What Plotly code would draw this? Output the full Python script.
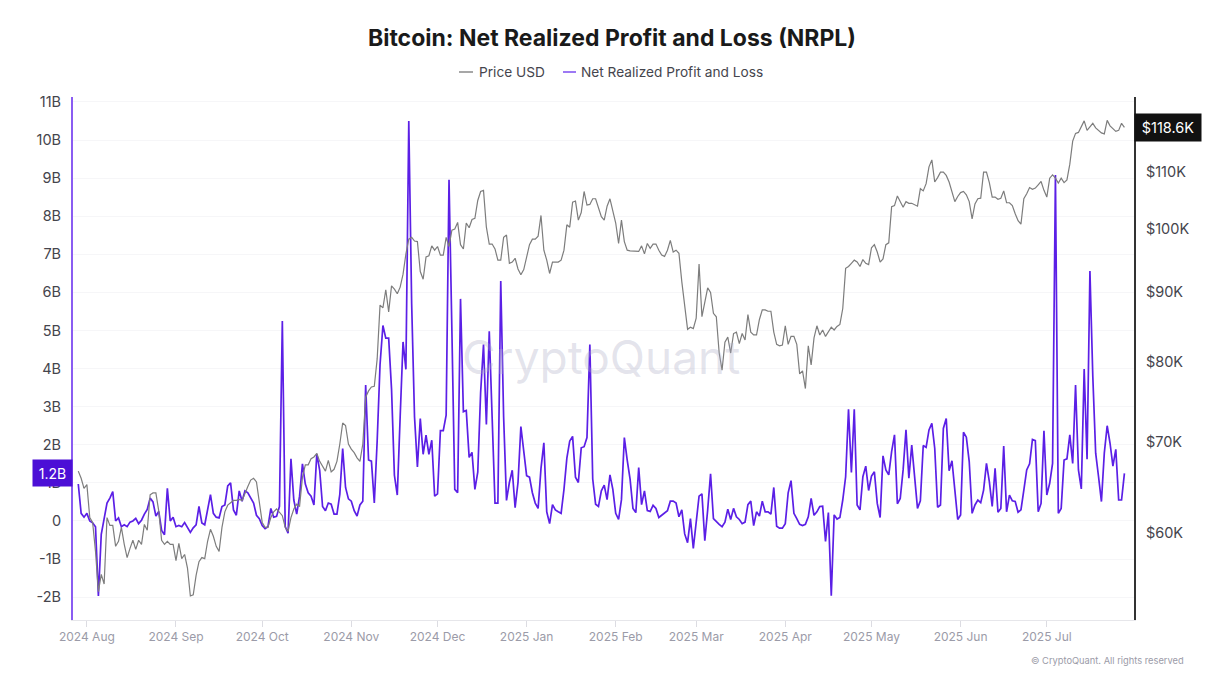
import numpy as np
import pandas as pd
import plotly.graph_objects as go

start_date = "2024-07-29"

# net realized profit and loss, billions USD, one value per day
nrpl_b = [
    0.97, 0.2, 0.1, 0.2, 0.0, -0.05, -0.15, -1.97, -0.35, 0.1,
    0.47, 0.6, 0.77, 0.0, 0.08, -0.15, -0.1, -0.15, -0.03, 0.0,
    0.07, -0.07, 0.02, 0.18, 0.3, 0.6, 0.5, 0.13, 0.25, -0.25,
    -0.36, 0.86, 0.0, 0.1, -0.15, -0.12, -0.15, -0.04, -0.18, -0.3,
    -0.18, -0.1, 0.38, -0.05, -0.1, 0.25, 0.69, 0.2, 0.1, 0.08,
    0.38, 0.42, 0.92, 1.0, 0.29, 0.15, 0.79, 0.52, 0.79, 0.74,
    0.6, 0.47, 0.15, 0.06, -0.12, -0.2, -0.15, 0.33, 0.1, 0.12,
    0.38, 5.25, -0.15, -0.32, 1.63, 0.55, 0.18, 0.65, 1.5, 0.97,
    0.74, 0.65, 0.42, 1.76, 1.33, 0.38, 0.27, 0.47, 0.44, 0.18,
    0.18, 0.7, 1.9, 0.88, 0.58, 0.52, 0.27, 0.13, 0.42, 0.52,
    3.57, 1.6, 1.57, 0.47, 2.1, 4.1, 5.13, 4.8, 4.8, 3.46,
    1.2, 0.68, 2.73, 4.7, 3.98, 10.5, 5.7, 2.73, 1.42, 2.69,
    1.75, 2.25, 1.75, 2.12, 0.65, 0.71, 2.37, 2.37, 2.78, 8.96,
    5.0, 0.83, 0.74, 5.83, 2.87, 2.9, 1.67, 1.8, 0.83, 1.28,
    3.37, 4.63, 2.53, 4.98, 2.73, 0.47, 0.47, 6.3, 2.73, 0.54,
    1.01, 1.33, 0.35, 1.01, 2.48, 1.83, 1.19, 1.15, 0.74, 0.47,
    0.33, 1.38, 2.05, 0.24, -0.07, 0.43, 0.29, 0.24, 0.2, 0.83,
    1.65, 2.1, 2.22, 1.15, 1.01, 1.92, 1.95, 2.19, 4.63, 1.1,
    0.44, 0.38, 0.79, 0.94, 0.56, 1.21, 0.83, 0.2, 0.04, 0.56,
    2.19, 1.6, 1.1, 0.33, 0.22, 1.4, 0.43, 0.79, 0.27, 0.25,
    0.41, 0.33, 0.09, 0.15, 0.2, 0.27, 0.52, 0.52, 0.47, 0.11,
    0.29, -0.34, -0.57, 0.06, -0.72, -0.07, 0.65, 0.71, -0.52, 0.29,
    1.24, 0.06, -0.03, -0.09, -0.15, -0.03, 0.31, 0.04, 0.33, 0.11,
    0.04, -0.07, -0.03, 0.43, 0.52, -0.12, 0.24, 0.13, 0.52, 0.24,
    0.24, 0.18, 0.88, -0.14, -0.19, -0.19, -0.07, 0.74, 1.06, 0.2,
    0.06, -0.09, -0.12, -0.09, 0.11, 0.59, 0.15, 0.24, 0.38, 0.39,
    -0.54, 0.22, -1.96, 0.16, 0.05, 0.09, 0.55, 1.16, 2.93, 1.27,
    2.93, 0.42, 0.29, 1.16, 1.44, 0.8, 1.18, 1.29, 0.46, 0.09,
    1.71, 1.34, 1.21, 1.82, 2.26, 0.45, 0.59, 1.34, 2.39, 1.12,
    1.99, 1.08, 0.33, 0.53, 1.98, 1.93, 2.39, 2.56, 1.91, 0.36,
    0.42, 2.43, 2.69, 1.32, 1.58, 0.81, 0.04, 0.16, 2.33, 2.2,
    1.56, 0.2, 0.42, 0.55, 0.48, 0.81, 1.51, 1.03, 0.38, 1.38,
    0.23, 0.33, 1.97, 0.24, 0.68, 0.53, 0.51, 0.23, 0.29, 0.81,
    1.34, 1.5, 2.14, 2.11, 0.24, 0.46, 2.37, 0.68, 0.99, 1.51,
    9.08, 0.2, 0.33, 1.6, 1.63, 2.26, 1.51, 3.57, 1.34, 0.84,
    3.99, 1.62, 6.56, 3.79, 1.78, 1.16, 0.51, 1.78, 2.5, 2.04,
    1.44, 1.88, 0.55, 0.55, 1.25,
]

# BTC price, thousands USD, one value per day
price_k = [
    66.6, 65.8, 64.7, 65.1, 61.6, 61.1, 58.2, 54.4, 56.0, 55.1,
    61.6, 60.8, 60.8, 58.7, 59.2, 60.6, 58.9, 57.6, 58.5, 59.3,
    58.4, 59.3, 58.9, 60.9, 60.3, 64.0, 64.2, 64.2, 62.3, 59.3,
    58.9, 59.2, 58.9, 58.9, 57.3, 59.0, 57.5, 57.9, 56.6, 54.0,
    54.1, 55.9, 57.2, 57.6, 57.5, 59.2, 60.4, 59.7, 58.7, 58.2,
    60.6, 62.2, 62.9, 63.2, 63.4, 63.4, 63.5, 63.4, 64.2, 64.9,
    65.6, 65.8, 65.4, 63.2, 61.1, 60.6, 60.6, 61.6, 62.2, 62.5,
    62.2, 61.8, 60.6, 60.2, 61.6, 62.5, 63.0, 62.8, 65.9, 67.3,
    67.3, 68.0, 68.2, 68.6, 67.7, 67.1, 66.6, 67.8, 66.5, 66.8,
    67.7, 69.7, 72.2, 71.9, 69.7, 69.1, 68.7, 68.1, 67.7, 69.7,
    75.4, 76.2, 76.7, 76.8, 80.4, 88.0, 87.6, 90.3, 87.0, 90.9,
    90.4, 89.7, 90.7, 92.7, 95.9, 98.3, 98.6, 98.0, 97.9, 93.1,
    91.9, 95.4, 95.6, 97.2, 96.5, 97.1, 95.7, 95.7, 98.6, 97.1,
    99.8, 100.0, 101.1, 97.4, 96.7, 101.0, 100.2, 101.6, 101.8, 104.9,
    106.5, 106.7, 100.3, 97.5, 97.5, 96.7, 94.9, 94.9, 98.6, 99.0,
    94.4, 94.6, 95.2, 93.5, 92.6, 93.4, 95.2, 97.4, 98.3, 98.3,
    98.8, 102.3, 96.5, 94.9, 92.8, 94.6, 94.6, 94.6, 94.9, 96.5,
    100.7, 100.3, 104.6, 104.8, 101.5, 102.8, 106.5, 104.1, 104.2, 105.2,
    105.2, 103.5, 102.1, 101.5, 103.9, 105.2, 103.0, 101.0, 97.6, 101.5,
    97.9, 96.5, 96.4, 96.4, 96.4, 96.3, 97.2, 95.9, 97.6, 96.8,
    97.5, 97.5, 96.5, 95.7, 95.5, 96.5, 98.1, 96.2, 96.5, 96.0,
    91.5, 88.3, 84.5, 84.8, 84.6, 86.1, 94.3, 86.3, 88.3, 90.6,
    89.9, 86.8, 86.3, 81.2, 78.9, 82.7, 83.4, 81.2, 83.9, 84.1,
    82.5, 83.9, 83.0, 86.6, 84.1, 83.7, 83.7, 85.9, 87.3, 87.3,
    87.1, 87.1, 84.1, 82.4, 82.2, 82.3, 85.0, 82.4, 83.5, 83.5,
    82.4, 78.4, 78.8, 76.5, 82.2, 79.6, 83.3, 85.0, 83.7, 84.4,
    83.5, 84.1, 84.8, 84.4, 84.9, 85.2, 87.5, 93.6, 93.9, 94.4,
    94.9, 94.6, 93.9, 95.0, 94.4, 94.2, 96.9, 97.4, 96.2, 94.6,
    95.1, 97.4, 97.7, 103.8, 104.0, 105.7, 104.7, 103.7, 104.7, 104.4,
    104.4, 104.1, 103.9, 107.0, 106.6, 107.9, 111.0, 112.3, 108.2, 109.0,
    110.0, 110.0, 109.4, 108.2, 106.3, 104.7, 105.6, 106.3, 106.5, 105.9,
    104.7, 101.7, 104.3, 105.2, 105.3, 110.0, 110.0, 108.1, 105.5, 105.5,
    105.1, 105.3, 106.6, 104.5, 104.5, 104.0, 102.6, 101.4, 100.8, 105.2,
    106.1, 107.2, 106.9, 107.1, 107.7, 108.3, 106.7, 105.5, 108.9, 109.5,
    108.9, 108.0, 108.9, 108.1, 108.6, 111.5, 115.9, 117.4, 117.6, 118.7,
    119.9, 118.0, 118.7, 119.4, 118.5, 118.0, 117.5, 117.3, 120.0, 118.9,
    118.3, 117.8, 118.0, 119.4, 118.6,
]

month_ticks = ["2024-08-01", "2024-09-01", "2024-10-01", "2024-11-01", "2024-12-01", "2025-01-01",
               "2025-02-01", "2025-03-01", "2025-04-01", "2025-05-01", "2025-06-01", "2025-07-01"]
left_ticks = [-2, -1, 0, 1, 2, 3, 4, 5, 6, 7, 8, 9, 10, 11]
left_labels = ["-2B", "-1B", "0", "1B", "2B", "3B", "4B", "5B", "6B", "7B", "8B", "9B", "10B", "11B"]
right_ticks = [60, 70, 80, 90, 100, 110]
right_labels = ["$60K", "$70K", "$80K", "$90K", "$100K", "$110K"]

FONT = "Inter"
PURPLE = "#5b1fe6"
GREY_TEXT = "#45454d"
LEFT, RIGHT, TOP, BOTTOM = 73, 1134, 97, 620


# paper coords are relative to the plot area, these take page pixels
def px(x):
    return (x - LEFT) / (RIGHT - LEFT)


def py(y):
    return (BOTTOM - y) / (BOTTOM - TOP)


dates = pd.date_range(start_date, periods=len(nrpl_b))

fig = go.Figure()
fig.add_trace(go.Scatter(x=dates, y=price_k, mode="lines", name="Price USD", yaxis="y2",
                         line=dict(color="#7d7d7d", width=1.2)))
fig.add_trace(go.Scatter(x=dates, y=nrpl_b, mode="lines", name="Net Realized Profit and Loss",
                         line=dict(color=PURPLE, width=1.7)))

fig.update_layout(
    width=1230, height=674,
    margin=dict(l=LEFT, r=1230 - RIGHT, t=TOP, b=674 - BOTTOM),
    paper_bgcolor="white", plot_bgcolor="white",
    showlegend=False,
    font=dict(family=FONT),
    title=dict(text="<b>Bitcoin: Net Realized Profit and Loss (NRPL)</b>",
               x=612 / 1230, xanchor="center", y=1 - 38 / 674, yanchor="middle",
               font=dict(size=23, color="#1a1a1a", family=FONT)),
    xaxis=dict(type="date", range=["2024-07-27 04:00", "2025-07-31 08:00"],
               tickvals=month_ticks, tickformat="%Y %b",
               ticks="outside", ticklen=6, tickcolor="#dcdce2",
               tickfont=dict(size=12, color="#9b9ba8"),
               showline=True, linecolor="#e6e6ea", linewidth=1,
               showgrid=False, zeroline=False),
    yaxis=dict(range=[-2.6, 11.13], tickvals=left_ticks, ticktext=left_labels,
               tickfont=dict(size=14.5, color=GREY_TEXT), ticks="", ticklabelstandoff=7,
               showline=True, linecolor="#8a5cf2", linewidth=2,
               gridcolor="#f6f6f8", gridwidth=1, zeroline=False),
    yaxis2=dict(type="log", overlaying="y", side="right",
                range=[np.log10(51.87), np.log10(124.8)],
                tickvals=right_ticks, ticktext=right_labels,
                tickfont=dict(size=14.5, color=GREY_TEXT), ticks="", ticklabelstandoff=7,
                showline=True, linecolor="#333333", linewidth=2,
                showgrid=False, zeroline=False),
)

# watermark, value badges and footer
fig.add_annotation(text="CryptoQuant", xref="paper", yref="paper", x=px(601), y=py(357), showarrow=False,
                   font=dict(size=46, color="rgba(170,170,195,0.32)", family=FONT))
fig.add_annotation(text="1.2B", xref="paper", yref="y", x=0, y=nrpl_b[-1], xanchor="right", showarrow=False,
                   bgcolor="#4c0fd6", width=37, height=24, font=dict(size=14, color="white"))
fig.add_annotation(text="$118.6K", xref="paper", yref="y2", x=1, y=np.log10(price_k[-1]), xanchor="left",
                   showarrow=False, bgcolor="#111111", width=64, height=25, font=dict(size=14.5, color="white"))
fig.add_annotation(text="© CryptoQuant. All rights reserved", xref="paper", yref="paper",
                   x=px(1186), y=py(660), xanchor="right", yanchor="middle", showarrow=False,
                   font=dict(size=9.3, color="#9b9ba8"))

# legend is a short swatch next to each name, narrower than plotly's own legend allows
fig.add_annotation(text="Price USD", xref="paper", yref="paper", x=px(477), y=py(72),
                   xanchor="left", yanchor="middle", showarrow=False, font=dict(size=13.7, color=GREY_TEXT))
fig.add_annotation(text="Net Realized Profit and Loss", xref="paper", yref="paper", x=px(579), y=py(72),
                   xanchor="left", yanchor="middle", showarrow=False, font=dict(size=13.7, color=GREY_TEXT))
fig.add_shape(type="line", xref="paper", yref="paper", x0=px(459), x1=px(473), y0=py(72), y1=py(72),
              line=dict(color="#8a8a8a", width=1.5))
fig.add_shape(type="line", xref="paper", yref="paper", x0=px(563), x1=px(576), y0=py(72), y1=py(72),
              line=dict(color="#7c4df0", width=1.5))

fig.write_html("out.html", config=dict(displayModeBar=False), post_script="document.body.style.margin='0';")
